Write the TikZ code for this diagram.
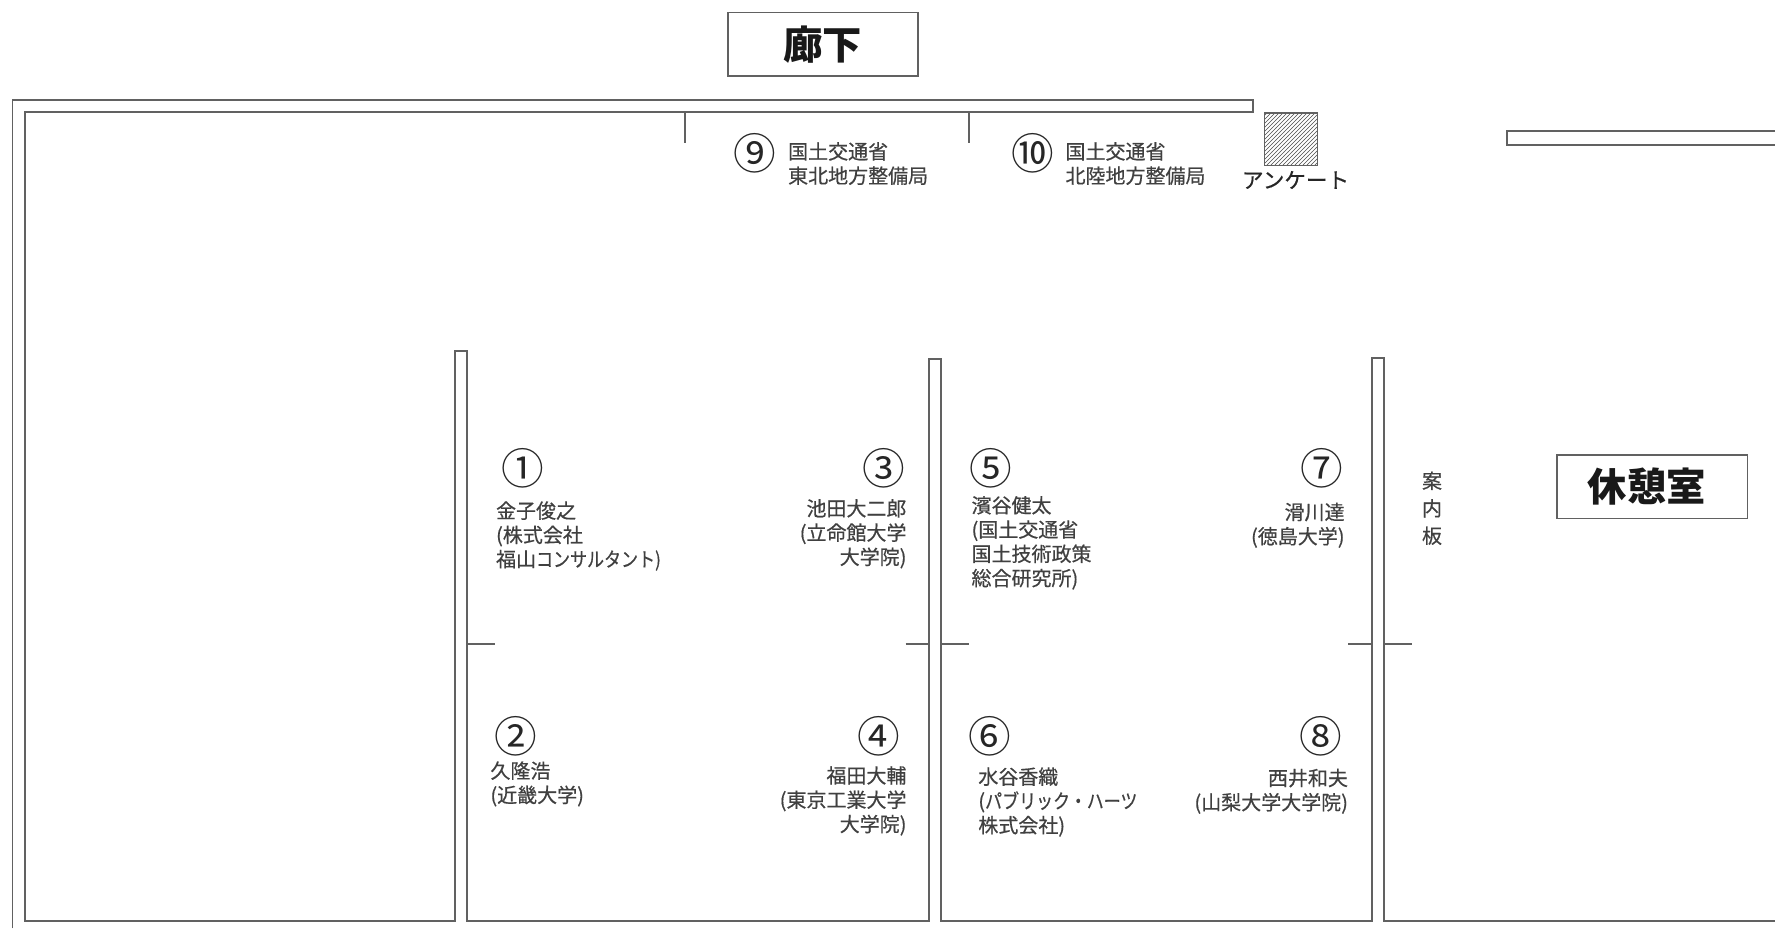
\documentclass[tikz,border=0pt]{standalone}
\usepackage{fontspec}
\usetikzlibrary{patterns}
\setmainfont{Noto Sans CJK JP}
\newfontfamily\smf[FakeBold=0.5]{Noto Sans CJK JP}
\newfontfamily\smk[FakeBold=0.5,FakeStretch=0.85]{Noto Sans CJK JP}
\newcommand{\kn}[1]{{\smk #1}}
\definecolor{inkc}{gray}{0.25}
\definecolor{wallc}{gray}{0.38}
\tikzset{
  wall/.style={draw=wallc,line width=1.4pt,line join=miter},
  tick/.style={draw=wallc,line width=1pt},
  roomlabel/.style={draw=wallc,line width=1.1pt,minimum width=142.6pt,minimum height=47.5pt,inner sep=0pt,font=\fontsize{29.5}{30}\selectfont\bfseries,text=black!90},
  num/.style={inner sep=0pt,font=\fontsize{32}{32}\selectfont,text=black!85},
  lname/.style={inner sep=0pt,anchor=west,align=left,text=inkc,font=\fontsize{15}{18.2}\selectfont\smf},
  rname/.style={inner sep=0pt,anchor=east,align=right,text=inkc,font=\fontsize{15}{18.2}\selectfont\smf}
}
\begin{document}
\begin{tikzpicture}[x=0.849pt,y=-0.849pt]
\useasboundingbox (0,0) rectangle (1568,819.8);
% walls
\draw[wall] (11,820) -- (11,88) -- (1107,88) -- (1107,99) -- (22,99) -- (22,813.5) -- (402,813.5) -- (402,310) -- (412.5,310) -- (412.5,813.5) -- (821,813.5) -- (821,317) -- (831.5,317) -- (831.5,813.5) -- (1212,813.5) -- (1212,316) -- (1222.5,316) -- (1222.5,813.5) -- (1568,813.5);
\draw[wall] (1568,116) -- (1331,116) -- (1331,128) -- (1568,128);
% ticks
\draw[tick] (605,99) -- (605,126);
\draw[tick] (856,99) -- (856,126);
\draw[tick] (412.5,569) -- (437,569);
\draw[tick] (800,569) -- (821,569);
\draw[tick] (831.5,569) -- (856,569);
\draw[tick] (1191,569) -- (1212,569);
\draw[tick] (1222.5,569) -- (1247,569);
% labels
\node[roomlabel] (corridor) at (727,39) {廊下};
\node[roomlabel] (lounge) at (1459.5,430) {\hspace*{-8pt}休憩室};
% survey
\node[draw=wallc,line width=1pt,fill=black!25,pattern=north east lines,pattern color=black!70,minimum size=39.5pt,inner sep=0pt] (box) at (1140.5,123) {};
\node[inner sep=0pt,text=black!85,font=\fontsize{16.2}{17}\selectfont\smf] (survey) at (1144.5,159) {アンケート};
\node[inner sep=0pt,align=center,text=inkc,font=\fontsize{15}{20.6}\selectfont\smf] (board) at (1265,449) {案\\内\\板};
% numbers
\node[num] (n1) at (461.5,414) {①};
\node[num] (n2) at (456,650) {②};
\node[num] (n3) at (781,414) {③};
\node[num] (n4) at (776,650) {④};
\node[num] (n5) at (875.5,414) {⑤};
\node[num] (n6) at (874.5,650) {⑥};
\node[num] (n7) at (1168,414) {⑦};
\node[num] (n8) at (1167,650) {⑧};
\node[num] (n9) at (667,135) {⑨};
\node[num] (n10) at (912.5,135) {⑩};
% names
\node[lname] (t1) at (438,473.5) {金子俊之\\(株式会社\\福山\kn{コンサルタント)}};
\node[lname] (t2) at (433,692.5) {久隆浩\\(近畿大学)};
\node[rname] (t3) at (801,471.5) {池田大二郎\\(立命館大学\\大学院)};
\node[rname] (t4) at (801,707.5) {福田大輔\\(東京工業大学\\大学院)};
\node[lname] (t5) at (858,479.5) {濱谷健太\\(国土交通省\\国土技術政策\\総合研究所)};
\node[lname] (t6) at (864,708.5) {水谷香織\\(\kn{パブリック・ハーツ}\\株式会社)};
\node[rname] (t7) at (1188,464) {滑川達\\(徳島大学)};
\node[rname] (t8) at (1191,699) {西井和夫\\(山梨大学大学院)};
\node[lname] (t9) at (696,144.5) {国土交通省\\東北地方整備局};
\node[lname] (t10) at (941,144.5) {国土交通省\\北陸地方整備局};
\end{tikzpicture}
\end{document}
